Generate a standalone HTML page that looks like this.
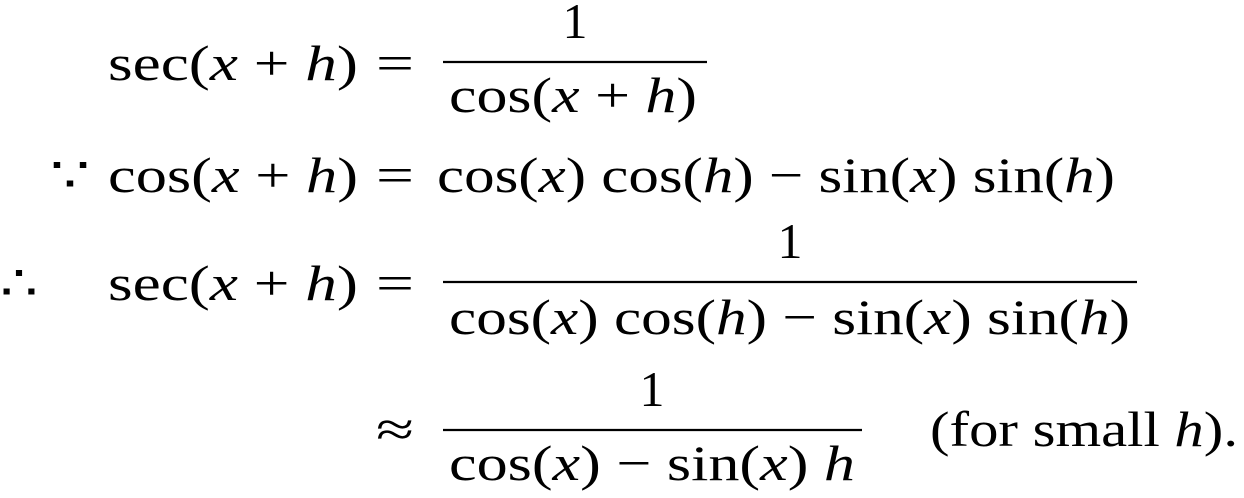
<!DOCTYPE html>
<html><head><meta charset="utf-8"><style>
html,body{margin:0;padding:0;background:#fff;}
svg{display:block;}
text{font-family:"Liberation Serif","DejaVu Serif",serif;font-size:50px;fill:#000;}
.i{font-style:italic;}
</style></head><body>
<svg width="1244" height="498" viewBox="0 0 1244 498">
<!-- Row 1 -->
<g>
<text x="108" y="80" textLength="250" lengthAdjust="spacingAndGlyphs">sec(<tspan class="i">x</tspan> + <tspan class="i">h</tspan>)</text>
<text x="376" y="80" textLength="38" lengthAdjust="spacingAndGlyphs">=</text>
<text x="575" y="38" text-anchor="middle">1</text>
<line x1="443" y1="62" x2="707" y2="62" stroke="#000" stroke-width="2.2"/>
<text x="449" y="112" textLength="248" lengthAdjust="spacingAndGlyphs">cos(<tspan class="i">x</tspan> + <tspan class="i">h</tspan>)</text>
</g>
<!-- Row 2 -->
<g>
<text x="50" y="192" textLength="40" lengthAdjust="spacingAndGlyphs">∵</text>
<text x="108" y="192" textLength="250" lengthAdjust="spacingAndGlyphs">cos(<tspan class="i">x</tspan> + <tspan class="i">h</tspan>)</text>
<text x="376" y="192" textLength="38" lengthAdjust="spacingAndGlyphs">=</text>
<text x="437" y="192" textLength="678" lengthAdjust="spacingAndGlyphs">cos(<tspan class="i">x</tspan>) cos(<tspan class="i">h</tspan>) − sin(<tspan class="i">x</tspan>) sin(<tspan class="i">h</tspan>)</text>
</g>
<!-- Row 3 -->
<g>
<text x="0" y="300" textLength="38" lengthAdjust="spacingAndGlyphs">∴</text>
<text x="108" y="300" textLength="250" lengthAdjust="spacingAndGlyphs">sec(<tspan class="i">x</tspan> + <tspan class="i">h</tspan>)</text>
<text x="376" y="300" textLength="38" lengthAdjust="spacingAndGlyphs">=</text>
<text x="790" y="258" text-anchor="middle">1</text>
<line x1="443" y1="282" x2="1137" y2="282" stroke="#000" stroke-width="2.2"/>
<text x="449" y="334" textLength="681" lengthAdjust="spacingAndGlyphs">cos(<tspan class="i">x</tspan>) cos(<tspan class="i">h</tspan>) − sin(<tspan class="i">x</tspan>) sin(<tspan class="i">h</tspan>)</text>
</g>
<!-- Row 4 -->
<g>
<text x="376" y="446" textLength="38" lengthAdjust="spacingAndGlyphs">≈</text>
<text x="652" y="406" text-anchor="middle">1</text>
<line x1="443" y1="430" x2="862" y2="430" stroke="#000" stroke-width="2.2"/>
<text x="449" y="480" textLength="406" lengthAdjust="spacingAndGlyphs">cos(<tspan class="i">x</tspan>) − sin(<tspan class="i">x</tspan>) <tspan class="i">h</tspan></text>
<text x="930" y="446" textLength="308" lengthAdjust="spacingAndGlyphs">(for small <tspan class="i">h</tspan>).</text>
</g>
</svg>
</body></html>
